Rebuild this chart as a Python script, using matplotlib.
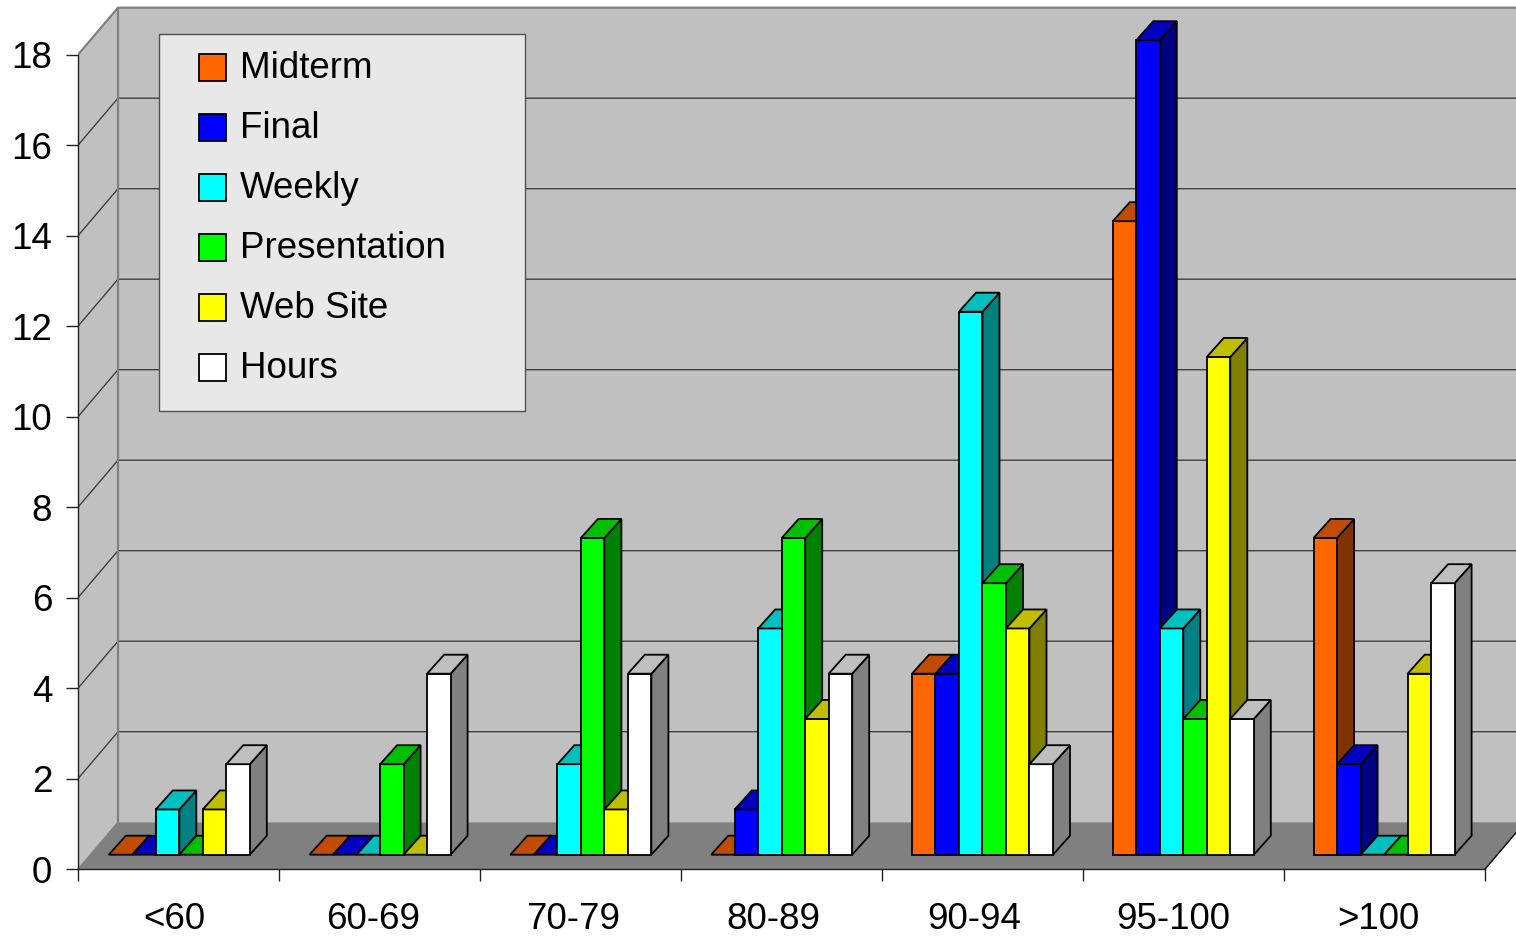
import matplotlib
matplotlib.use("Agg")
import matplotlib.pyplot as plt
from matplotlib.legend_handler import HandlerPatch
from matplotlib.patches import Patch, Polygon, Rectangle
from matplotlib.transforms import ScaledTranslation

# Data
categories = ["<60", "60-69", "70-79", "80-89", "90-94", "95-100", ">100"]
midterm = [0, 0, 0, 0, 4, 14, 7]
final = [0, 0, 0, 1, 4, 18, 2]
weekly = [1, 0, 2, 5, 12, 5, 0]
presentation = [0, 2, 7, 7, 6, 3, 0]
web_site = [1, 0, 1, 3, 5, 11, 4]
hours = [2, 4, 4, 4, 2, 3, 6]
series_names = ["Midterm", "Final", "Weekly", "Presentation", "Web Site", "Hours"]
y_ticks = list(range(0, 19, 2))

# front, top and side colours of each series
FRONT = ["#FF6600", "#0000FF", "#00FFFF", "#00FF00", "#FFFF00", "#FFFFFF"]
TOP = ["#BF4C00", "#0000BF", "#00BFBF", "#00BF00", "#BFBF00", "#BFBFBF"]
SIDE = ["#803300", "#000080", "#008080", "#008000", "#808000", "#808080"]

plt.rcParams["font.family"] = ["Liberation Sans", "DejaVu Sans"]

# Layout, in pixels of the 1516x937 picture
W, H = 1516, 937
X0, Y0 = 78, 870.2
PX_PER_CAT = 201.0
PX_PER_VAL = 45.25

fig = plt.figure(figsize=(W / 100, H / 100), dpi=100)
ax = fig.add_axes([X0 / W, (H - Y0) / H, (W - X0) / W, Y0 / H])
ax.set_xlim(0, (W - X0) / PX_PER_CAT)
ax.set_ylim(0, Y0 / PX_PER_VAL)
ax.patch.set_visible(False)

# depth of the box and of the bars, in data units
WALL_DX = 40 / PX_PER_CAT
WALL_DY = 47 / PX_PER_VAL
BAR_DX = 17 / PX_PER_CAT
BAR_DY = 19 / PX_PER_VAL
BASE = 14.5 / PX_PER_VAL
BAR_W = 23.5 / PX_PER_CAT
GROUP_START = 30.8 / PX_PER_CAT
GROUP_STEP = 0.999

n_cat = len(categories)
y_top = max(y_ticks)
x_end = 7.2

WALL = "#C0C0C0"
FLOOR = "#808080"
GRID = "#404040"
EDGE = "#808080"

# left wall, back wall, floor
ax.add_patch(Polygon([(0, 0), (WALL_DX, WALL_DY), (WALL_DX, y_top + WALL_DY), (0, y_top)],
                     fc=WALL, ec="none", zorder=1))
ax.add_patch(Polygon([(WALL_DX, WALL_DY), (x_end, WALL_DY), (x_end, y_top + WALL_DY), (WALL_DX, y_top + WALL_DY)],
                     fc=WALL, ec="none", zorder=1))
ax.add_patch(Polygon([(0, 0), (n_cat, 0), (n_cat + WALL_DX, WALL_DY), (WALL_DX, WALL_DY)],
                     fc=FLOOR, ec="none", zorder=1))

for v in y_ticks[1:-1]:
    ax.plot([0, WALL_DX, x_end], [v, v + WALL_DY, v + WALL_DY], color=GRID, lw=1.0, zorder=2)
ax.plot([0, WALL_DX, x_end], [y_top, y_top + WALL_DY, y_top + WALL_DY], color=EDGE, lw=1.6, zorder=2)
ax.plot([0, WALL_DX], [0, WALL_DY], color=EDGE, lw=1.0, zorder=2)
ax.plot([WALL_DX, WALL_DX], [WALL_DY, y_top + WALL_DY], color=EDGE, lw=1.6, zorder=2)
ax.plot([n_cat, n_cat + WALL_DX], [0, WALL_DY], color="black", lw=1.0, zorder=2)


def draw_bar(x, value, order, front, top, side):
    x1 = x + BAR_W
    y0 = BASE
    y1 = BASE + value
    style = dict(ec="black", lw=1.3, joinstyle="miter", zorder=3 + order)
    if value > 0:
        ax.add_patch(Polygon([(x1, y0), (x1 + BAR_DX, y0 + BAR_DY), (x1 + BAR_DX, y1 + BAR_DY), (x1, y1)],
                             fc=side, **style))
        ax.add_patch(Rectangle((x, y0), BAR_W, value, fc=front, **style))
    ax.add_patch(Polygon([(x, y1), (x + BAR_DX, y1 + BAR_DY), (x1 + BAR_DX, y1 + BAR_DY), (x1, y1)],
                         fc=top, **style))


all_series = [midterm, final, weekly, presentation, web_site, hours]
order = 0
for i in range(n_cat):
    for j, values in enumerate(all_series):
        x = GROUP_START + i * GROUP_STEP + j * BAR_W
        draw_bar(x, values[i], order, FRONT[j], TOP[j], SIDE[j])
        order += 1

# Axes
for name in ["top", "right"]:
    ax.spines[name].set_visible(False)
ax.spines["left"].set_bounds(0, y_top)
ax.spines["bottom"].set_bounds(0, n_cat)
for name in ["left", "bottom"]:
    ax.spines[name].set_linewidth(1.0)
    ax.spines[name].set_color("#202020")
    ax.spines[name].set_zorder(500)

ax.set_yticks(y_ticks)
ax.tick_params(axis="y", length=8.6, width=1.0, color="#202020", pad=10, labelsize=26.5)
up_1px = ScaledTranslation(0, 1 / 100, fig.dpi_scale_trans)
for label in ax.get_yticklabels():
    label.set_transform(label.get_transform() + up_1px)
ax.set_xticks(range(n_cat + 1))
ax.set_xticklabels([])
# labels sit a little left of the middle of each slot, more so further right
ax.set_xticks([0.478, 1.468, 2.463, 3.458, 4.458, 5.450, 6.468], minor=True)
ax.set_xticklabels(categories, minor=True)
ax.tick_params(axis="x", which="major", length=8.6, width=1.0, color="#202020")
ax.tick_params(axis="x", which="minor", length=0, pad=23, labelsize=26.5)


# Legend panel
def legend_swatch(legend, orig_handle, xdescent, ydescent, width, height, fontsize):
    # swatch sits lower than the default, against the text baseline
    return Rectangle((-xdescent, -ydescent - 1.7), width, 0.73 * fontsize)


px_x = lambda p: (p - X0) / PX_PER_CAT
px_y = lambda p: (Y0 - p) / PX_PER_VAL
ax.add_patch(Rectangle((px_x(158.5), px_y(411.5)), px_x(525) - px_x(158.5), px_y(34.5) - px_y(411.5),
                       fc="#E8E8E8", ec="#505050", lw=1.0, zorder=400))
handles = [Patch(fc=c, ec="black", lw=1.3, label=n) for c, n in zip(FRONT, series_names)]
leg = ax.legend(handles=handles, loc="upper left", bbox_to_anchor=(px_x(199), px_y(50.5)),
                bbox_transform=ax.transData, frameon=False, fontsize=26.5, borderpad=0,
                borderaxespad=0, handlelength=0.73, handleheight=0.84, handletextpad=0.39,
                labelspacing=0.67, handler_map={Patch: HandlerPatch(patch_func=legend_swatch)})
leg.set_zorder(450)

fig.savefig("out.png", dpi=100)
plt.close(fig)
